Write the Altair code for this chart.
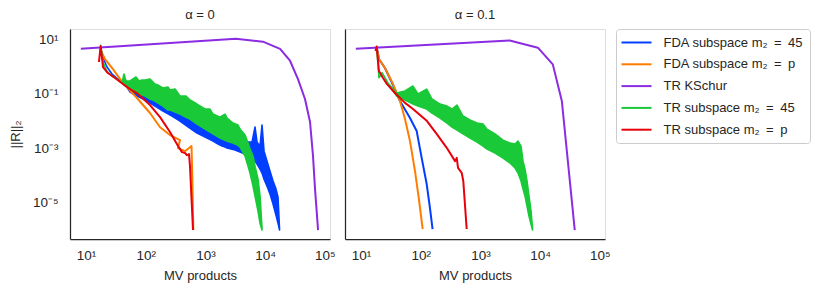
import altair as alt
import pandas as pd

SERIES = ["FDA subspace m₂\u2002=\u200245", "FDA subspace m₂\u2002=\u2002p", "TR KSchur",
          "TR subspace m₂\u2002=\u200245", "TR subspace m₂\u2002=\u2002p"]
COLORS = ["#023eff", "#ff7c00", "#8b2be2", "#1ac938", "#e8000b"]
PANELS = ["α = 0", "α = 0.1"]

# ---------------- alpha = 0 ----------------
A0_KSCHUR_X = [8.2, 3240, 9200, 17800, 26100, 35500, 46500, 56500, 63400, 68500, 77000]
A0_KSCHUR_Y = [4.6, 10.7, 8.3, 4.5, 1.66, 0.35, 0.065, 0.0093, 5.2e-4, 3.2e-5, 1.0e-6]

A0_FDAP_X = [17.2, 20.8, 28.3, 41.7, 71.4, 118, 174, 255, 376, 348, 455, 585, 603, 627]
A0_FDAP_Y = [4.47, 1.92, 0.82, 0.25, 0.071, 0.020, 0.0060, 0.0031, 0.00202, 0.00103,
             7.9e-4, 0.00122, 9.7e-5, 1.0e-6]

A0_TRP_X = [16.5, 17.6, 19.3, 23.3, 30.6, 41.7, 54.6, 71.4, 118, 174, 255, 348, 405,
            455, 491, 531, 552, 585, 620]
A0_TRP_Y = [1.49, 5.77, 0.975, 0.586, 0.385, 0.231, 0.151, 0.108, 0.039, 0.0141, 0.0040,
            0.00122, 7.3e-4, 6.8e-4, 5.6e-4, 6.2e-4, 2.24e-4, 1.48e-5, 1.0e-6]

A0_FDA45_X = [17.5, 19.3, 22.5, 27.3, 34.4, 41.7, 45.0, 54.6, 71.5, 105, 143, 195, 276,
              375, 511, 723, 985, 1341, 1626, 1756, 1897, 2130, 2301, 3132, 4265, 5171,
              6035, 6773, 7316, 8213, 8873, 9585, 10760, 12080, 13560, 15220, 16440, 17430]
A0_FDA45_HI = [4.87, 2.09, 0.975, 0.539, 0.353, 0.274, 0.298, 0.195, 0.165, 0.108, 0.0769,
               0.0548, 0.0391, 0.0256, 0.0182, 0.0130, 0.0101, 0.0085, 0.0051, 0.0130,
               0.0044, 0.0154, 0.0034, 0.0026, 0.00185, 0.0017, 0.0017, 0.0061, 0.0017,
               0.00122, 0.0072, 7.9e-4, 3.4e-4, 1.46e-4, 6.3e-5, 3.2e-5, 1.62e-5, 1.08e-6]
A0_FDA45_LO = [4.87, 2.09, 0.975, 0.539, 0.353, 0.274, 0.231, 0.1175, 0.0837, 0.0548, 0.0359,
               0.0235, 0.0154, 0.0101, 0.0062, 0.00365, 0.0026, 0.00185, 0.00144, 0.00132,
               0.00122, 0.00112, 0.00103, 8.7e-4, 6.7e-4, 4.8e-4, 3.7e-4, 3.4e-4, 2.65e-4,
               1.73e-4, 1.24e-4, 7.4e-5, 4.1e-5, 2.1e-5, 9.0e-6, 3.5e-6, 1.79e-6, 1.0e-6]

A0_TR45_X = [17.6, 19.5, 22.2, 27.3, 33.1, 40.1, 43.3, 46.8, 54.6, 61.3, 68.8, 77.2, 86.7,
             97.3, 118, 143, 161, 195, 236, 255, 310, 375, 473, 552, 723, 985, 1194, 1341,
             1756, 2130, 2301, 2900, 3516, 3799, 4605, 5171, 5585, 6270, 6773, 7604, 8213, 8873]
A0_TR45_HI = [6.12, 1.40, 0.695, 0.455, 0.353, 0.252, 0.539, 0.298, 0.298, 0.353, 0.418, 0.298,
              0.324, 0.324, 0.353, 0.231, 0.212, 0.165, 0.179, 0.139, 0.151, 0.0837, 0.0837,
              0.0597, 0.0425, 0.0279, 0.0279, 0.0182, 0.0141, 0.0182, 0.0130, 0.0085, 0.0072,
              0.0051, 0.0031, 0.00157, 9.4e-4, 5.2e-4, 2.23e-4, 7.4e-5, 1.77e-5, 1.16e-6]
A0_TR45_LO = [6.12, 1.40, 0.695, 0.455, 0.353, 0.252, 0.212, 0.195, 0.151, 0.128, 0.1175,
              0.0992, 0.0912, 0.0837, 0.065, 0.0548, 0.0463, 0.0359, 0.0256, 0.0256, 0.0216,
              0.0182, 0.0140, 0.01195, 0.0078, 0.0051, 0.0040, 0.0034, 0.0024, 0.0020,
              0.00185, 0.00157, 0.00130, 0.00112, 5.2e-4, 2.23e-4, 1.24e-4, 4.1e-5, 1.77e-5,
              4.95e-6, 1.79e-6, 1.0e-6]

# ---------------- alpha = 0.1 ----------------
A1_KSCHUR_X = [8.2, 3090, 9160, 16300, 23100, 38000]
A1_KSCHUR_Y = [4.6, 9.2, 5.0, 1.22, 0.055, 1.0e-6]

A1_FDA45_X = [18.3, 20.0, 25.2, 34.4, 45.0, 66.2, 85.7, 104, 126, 143, 158]
A1_FDA45_Y = [5.3, 1.92, 0.896, 0.212, 0.0548, 0.0130, 0.00433, 4.4e-4, 4.9e-5, 6.4e-6, 1.08e-6]

A1_FDAP_X = [18.3, 20.0, 25.2, 34.4, 45.0, 54.6, 66.2, 80.3, 91.9, 108]
A1_FDAP_Y = [5.0, 1.92, 0.896, 0.231, 0.0548, 0.01195, 0.00185, 1.46e-4, 1.77e-5, 1.08e-6]

A1_TRP_X = [17.5, 18.3, 20.0, 23.4, 27.3, 37.1, 54.6, 74.3, 127.5, 185, 273, 376, 401,
            422, 486, 517, 589]
A1_TRP_Y = [3.78, 5.5, 0.70, 0.385, 0.23, 0.108, 0.047, 0.028, 0.0101, 0.0034, 0.00105,
            3.4e-4, 4.5e-4, 1.94e-4, 1.27e-4, 6.3e-5, 1.1e-6]

A1_TR45_X = [18.3, 20.0, 22.5, 28.3, 39.6, 54.6, 74.3, 90.1, 126, 154.6, 210.5, 276, 334,
             405.5, 511, 670, 877, 1106, 1290, 1756, 2391, 3132, 3799, 4265, 4786, 5171,
             5585, 6035, 6516, 7040, 7459]
A1_TR45_HI = [5.44, 0.394, 0.602, 0.252, 0.108, 0.128, 0.195, 0.0992, 0.151, 0.065, 0.0425,
              0.0359, 0.0279, 0.0391, 0.0154, 0.0110, 0.0085, 0.0078, 0.0051, 0.0034, 0.0020,
              0.00157, 0.00144, 0.00185, 0.00122, 3.4e-4, 1.73e-4, 6.3e-5, 1.77e-5, 5.0e-6,
              1.16e-6]
A1_TR45_LO = [5.44, 0.394, 0.602, 0.252, 0.0837, 0.0597, 0.0425, 0.0359, 0.0279, 0.0199,
              0.0130, 0.0085, 0.0061, 0.0047, 0.0034, 0.0024, 0.0017, 0.00122, 9.4e-4, 6.7e-4,
              4.4e-4, 2.9e-4, 1.9e-4, 1.24e-4, 6.3e-5, 3.2e-5, 1.77e-5, 7.6e-6, 3.2e-6,
              1.65e-6, 1.0e-6]

FONT = "Liberation Sans"
TXT = "#262626"

XTICKS = [10, 100, 1000, 10000, 100000]
YTICKS = [10, 0.1, 0.001, 0.00001]
SUP = {1: "¹", 2: "²", 3: "³", 4: "⁴", 5: "⁵", -1: "⁻¹", -3: "⁻³", -5: "⁻⁵"}


def label_expr(exps):
    e = "round(log(datum.value)/LN10)"
    s = "''"
    for k in exps:
        s = f"{e} == {k} ? '10{SUP[k]}' : ({s})"
    return s


xscale = alt.Scale(type="log", domain=[5.4, 1.22e5], nice=False)
yscale = alt.Scale(type="log", domain=[4.7e-7, 24.3], nice=False)
cscale = alt.Scale(domain=SERIES, range=COLORS)

legend = alt.Legend(
    title=None, orient="none", legendX=546, legendY=0,
    strokeColor="#cccccc", fillColor="white", cornerRadius=3, padding=6,
    symbolType="M-1.23,0H3.385", symbolSize=169, symbolStrokeWidth=2,
    labelFontSize=13, labelFont=FONT, labelColor=TXT, rowPadding=6.8, labelOffset=26.5,
    labelLimit=300,
)


def xaxis():
    return alt.Axis(values=XTICKS, labelExpr=label_expr([1, 2, 3, 4, 5]), title="MV products",
                    grid=False, ticks=False, tickSize=0, labelPadding=9, titlePadding=8,
                    domainColor=TXT, domainWidth=1.25, labelFontSize=13.5, titleFontSize=13,
                    labelColor=TXT, titleColor=TXT, labelFont=FONT, titleFont=FONT,
                    titleFontWeight="normal", labelOverlap=False)


def yaxis(show):
    if show:
        return alt.Axis(values=YTICKS, labelExpr=label_expr([1, -1, -3, -5]), title="||R||₂",
                        grid=False, ticks=False, tickSize=0, labelPadding=12, titlePadding=10,
                        domainColor=TXT, domainWidth=1.25, labelFontSize=13.5, titleFontSize=13,
                        labelColor=TXT, titleColor=TXT, labelFont=FONT, titleFont=FONT,
                        titleFontWeight="normal", labelOverlap=False)
    return alt.Axis(values=YTICKS, labels=False, title=None, grid=False, ticks=False, tickSize=0,
                    domainColor=TXT, domainWidth=1.25)


def line_df(xs, ys, series):
    return pd.DataFrame({"x": xs, "y": ys, "series": series, "idx": range(len(xs))})


def band_df(xs, hi, lo, series):
    return pd.DataFrame({"x": xs, "hi": hi, "lo": lo, "series": series})


def line_layer(df, show_y):
    return alt.Chart(df).mark_line(strokeWidth=2, strokeJoin="round", clip=True).encode(
        x=alt.X("x:Q", scale=xscale, axis=xaxis()),
        y=alt.Y("y:Q", scale=yscale, axis=yaxis(show_y)),
        color=alt.Color("series:N", scale=cscale, legend=legend),
        order=alt.Order("idx:Q"),
    )


def band_layer(df, color, show_y):
    return alt.Chart(df).mark_area(color=color, stroke=color, strokeWidth=1.6, opacity=1,
                                   strokeJoin="round", clip=True).encode(
        x=alt.X("x:Q", scale=xscale, axis=xaxis()),
        y=alt.Y("hi:Q", scale=yscale, axis=yaxis(show_y)),
        y2="lo:Q",
    )


def title(t):
    return alt.TitleParams(t, font=FONT, fontSize=13, fontWeight="normal", color=TXT, offset=7)


left = alt.layer(
    line_layer(line_df(A0_KSCHUR_X, A0_KSCHUR_Y, SERIES[2]), True),
    band_layer(band_df(A0_FDA45_X, A0_FDA45_HI, A0_FDA45_LO, SERIES[0]), COLORS[0], True),
    line_layer(line_df(A0_FDAP_X, A0_FDAP_Y, SERIES[1]), True),
    band_layer(band_df(A0_TR45_X, A0_TR45_HI, A0_TR45_LO, SERIES[3]), COLORS[3], True),
    line_layer(line_df(A0_TRP_X, A0_TRP_Y, SERIES[4]), True),
).properties(width=260, height=210, title=title(PANELS[0]))

right = alt.layer(
    line_layer(line_df(A1_KSCHUR_X, A1_KSCHUR_Y, SERIES[2]), False),
    line_layer(line_df(A1_FDA45_X, A1_FDA45_Y, SERIES[0]), False),
    line_layer(line_df(A1_FDAP_X, A1_FDAP_Y, SERIES[1]), False),
    band_layer(band_df(A1_TR45_X, A1_TR45_HI, A1_TR45_LO, SERIES[3]), COLORS[3], False),
    line_layer(line_df(A1_TRP_X, A1_TRP_Y, SERIES[4]), False),
).properties(width=260, height=210, title=title(PANELS[1]))

chart = alt.hconcat(left, right, spacing=8).configure_view(stroke=None).properties(
    padding={"left": 0, "top": 0, "right": 2, "bottom": 2}
).configure(font=FONT)

chart.save("out.html", embed_options={"renderer": "svg", "actions": False})
